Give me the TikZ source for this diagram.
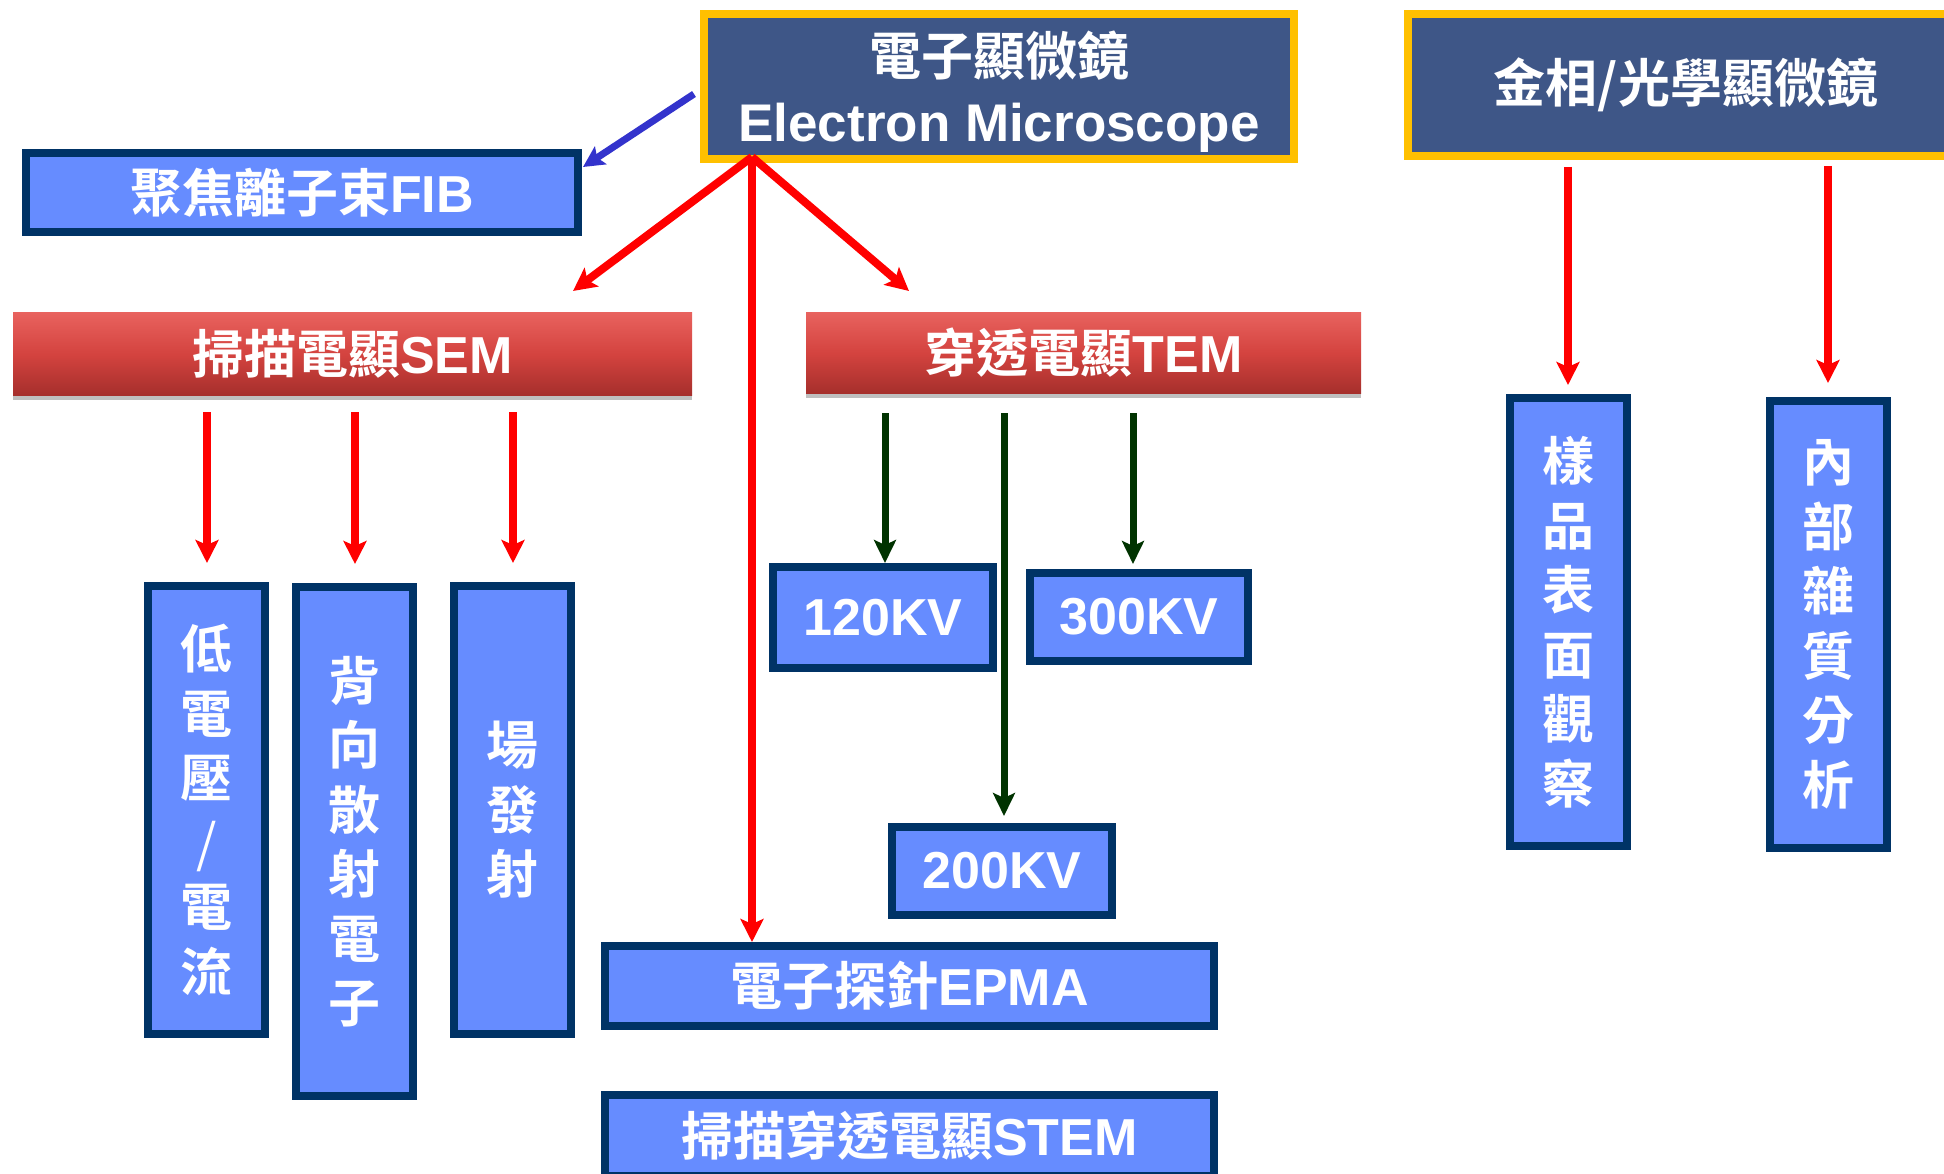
\documentclass[tikz,border=0pt]{standalone}
\usepackage{fontspec}
\setmainfont{Liberation Sans}
\newfontfamily\cjk[BoldFont={Noto Sans CJK TC Bold}]{Noto Sans CJK TC}
\usetikzlibrary{arrows.meta,shadows}
\definecolor{bxline}{HTML}{003366}
\definecolor{bxfill}{HTML}{668CFF}
\definecolor{emline}{HTML}{FFC000}
\definecolor{emfill}{HTML}{3E5687}
\definecolor{rtop}{HTML}{E8625E}
\definecolor{rmid}{HTML}{D4433F}
\definecolor{rbot}{HTML}{A62F2C}
\definecolor{arrred}{HTML}{FF0000}
\definecolor{arrgrn}{HTML}{003300}
\definecolor{arrblu}{HTML}{3333CC}
\tikzset{
  big/.style={text=white,font=\fontsize{52}{66}\selectfont\bfseries},
  bluebox/.style={big,draw=bxline,line width=8pt,fill=bxfill,inner sep=0pt},
  embox/.style={big,draw=emline,line width=8pt,fill=emfill,inner sep=0pt},
  redbox/.style={big,inner sep=0pt,top color=rtop,bottom color=rbot,middle color=rmid,
    drop shadow={shadow xshift=0pt,shadow yshift=-5pt,fill=black,opacity=0.25}},
  vert/.style={align=center,font=\cjk\fontsize{52}{64.5}\selectfont\bfseries},
  redarr/.style={draw=arrred,line width=8pt,-{Stealth[length=23pt,width=23pt,inset=5pt]}},
  grnarr/.style={draw=arrgrn,line width=7pt,-{Stealth[length=23pt,width=22pt,inset=5pt]}},
  bluarr/.style={draw=arrblu,line width=7pt,-{Stealth[length=21pt,width=21pt,inset=4pt]}}
}
\begin{document}
\begin{tikzpicture}[x=1pt,y=-1pt]
\useasboundingbox (0,0) rectangle (1944,1174);
% top boxes
\node[embox,minimum width=590pt,minimum height=145pt,align=center] (EM) at (999,86.5)
  {\rule{0pt}{55pt}{\cjk 電子顯微鏡}\\{\fontsize{53}{66}\selectfont Electron Microscope}};
\node[embox,minimum width=556pt,minimum height=142pt] (OM) at (1686,85)
  {\cjk 金相/光學顯微鏡};
\node[bluebox,minimum width=552pt,minimum height=79pt] (FIB) at (302,192.5)
  {{\cjk 聚焦離子束}FIB};
% SEM / TEM
\node[redbox,minimum width=679pt,minimum height=82pt] (SEM) at (352.5,354)
  {{\cjk 掃描電顯}SEM};
\node[redbox,minimum width=555pt,minimum height=80pt] (TEM) at (1083.5,353)
  {{\cjk 穿透電顯}TEM};
% SEM children
\node[bluebox,vert,minimum width=117pt,minimum height=448pt] (LV) at (206.5,810)
  {低\\電\\壓\\\mdseries /\\電\\流};
\node[bluebox,vert,minimum width=117pt,minimum height=509pt] (BSE) at (354.5,841.5)
  {背\\向\\散\\射\\電\\子};
\node[bluebox,vert,minimum width=117pt,minimum height=448pt] (FE) at (512.5,810)
  {場\\發\\射};
% TEM children
\node[bluebox,minimum width=220pt,minimum height=101pt] (KV1) at (883,617.5) {120KV};
\node[bluebox,minimum width=218pt,minimum height=88pt] (KV3) at (1139,617) {300KV};
\node[bluebox,minimum width=220pt,minimum height=88pt] (KV2) at (1002,871) {200KV};
% EPMA / STEM
\node[bluebox,minimum width=609pt,minimum height=80pt] (EPMA) at (909.5,986)
  {{\cjk 電子探針}EPMA};
\node[bluebox,minimum width=609pt,minimum height=81pt] (STEM) at (909.5,1135.5)
  {{\cjk 掃描穿透電顯}STEM};
% OM children
\node[bluebox,vert,minimum width=117pt,minimum height=448pt] (SURF) at (1568.5,622)
  {樣\\品\\表\\面\\觀\\察};
\node[bluebox,vert,minimum width=117pt,minimum height=447pt] (IMP) at (1828.5,624.5)
  {內\\部\\雜\\質\\分\\析};
% connector end points
\coordinate (bS) at (694,94);
\coordinate (bT) at (583,167);
\coordinate (eB) at (752,157);
\coordinate (semT) at (573,291);
\coordinate (temT) at (909,291);
\coordinate (s1) at (207,412);
\coordinate (s2) at (355,412);
\coordinate (s3) at (513,412);
\coordinate (t1) at (885,413);
\coordinate (t2) at (1004,413);
\coordinate (t3) at (1133,413);
\coordinate (o1) at (1568,167);
\coordinate (o2) at (1828,166);
% connectors
\draw[bluarr] (bS) -- (bT);
\draw[redarr] (eB) -- (semT);
\draw[redarr] (eB) -- (temT);
\draw[redarr] (eB) -- (eB |- EPMA.north);
\draw[redarr,shorten >=19pt] (s1) -- (s1 |- LV.north);
\draw[redarr,shorten >=19pt] (s2) -- (s2 |- BSE.north);
\draw[redarr,shorten >=19pt] (s3) -- (s3 |- FE.north);
\draw[grnarr] (t1) -- (t1 |- KV1.north);
\draw[grnarr,shorten >=5pt] (t3) -- (t3 |- KV3.north);
\draw[grnarr,shorten >=7pt] (t2) -- (t2 |- KV2.north);
\draw[redarr,shorten >=9pt] (o1) -- (o1 |- SURF.north);
\draw[redarr,shorten >=14pt] (o2) -- (o2 |- IMP.north);
\end{tikzpicture}
\end{document}
